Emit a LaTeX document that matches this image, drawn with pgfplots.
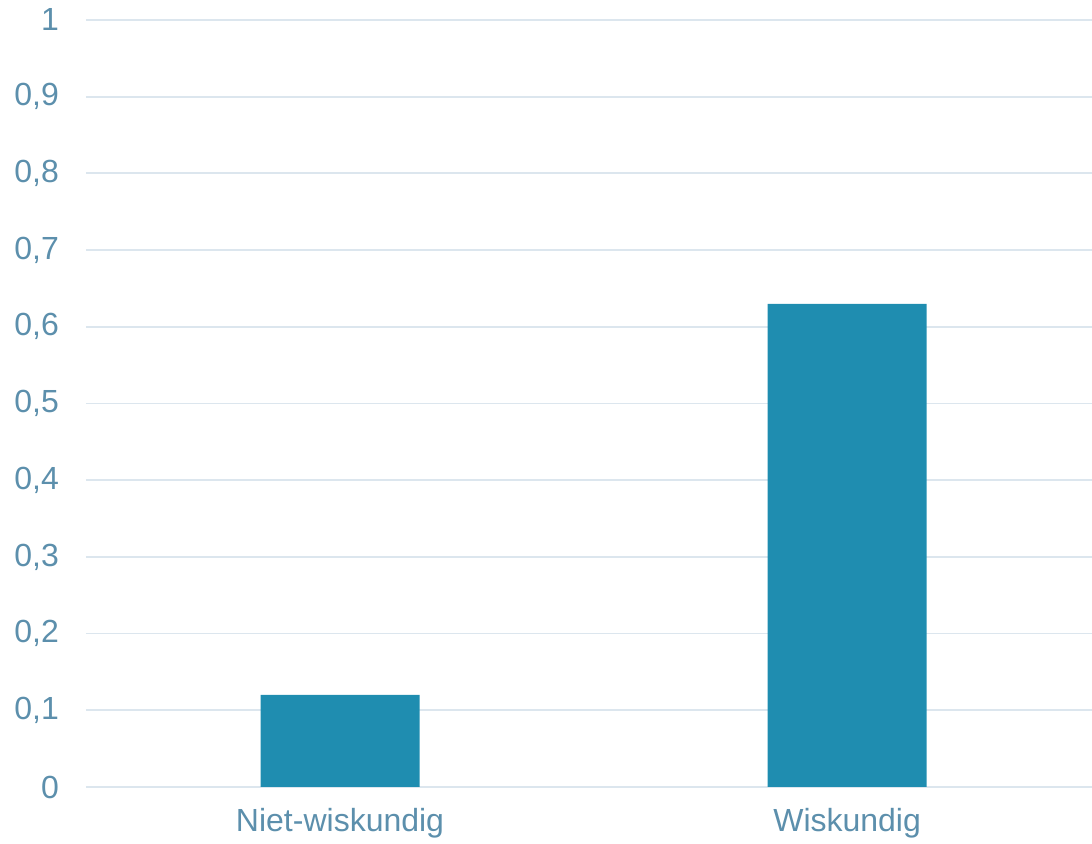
\documentclass[border=0pt]{standalone}
\usepackage{fontspec}
\setmainfont{Liberation Sans}
\usepackage{pgfplots}
\pgfplotsset{compat=1.18}
\definecolor{barc}{RGB}{31,141,176}
\definecolor{txtc}{RGB}{92,143,172}
\definecolor{gridc}{RGB}{220,230,238}
\begin{document}
\begin{tikzpicture}
\begin{axis}[
  name=ax,
  scale only axis,
  width=503pt, height=383.5pt,
  xmin=-0.501, xmax=1.483,
  ymin=0, ymax=1,
  ytick={0,0.1,...,1.0},
  xtick={0,1},
  xticklabels={Niet-wiskundig,Wiskundig},
  axis line style={draw=none},
  major tick length=0pt,
  ymajorgrids,
  grid style={gridc, line width=0.9pt},
  /pgf/number format/use comma,
  /pgf/number format/assume math mode=true,
  ticklabel style={font=\fontsize{16}{19}\selectfont, text=txtc},
  yticklabel style={xshift=-10pt},
  xticklabel style={yshift=-7pt},
  clip=false,
]
\addplot[ybar, bar width=79.5pt, fill=barc, draw=none] coordinates {(0,0.12) (1,0.63)};
\end{axis}
\pgfresetboundingbox
\path ([shift={(-43pt,-28.5pt)}]ax.south west) rectangle ([shift={(0pt,10pt)}]ax.north east);
\end{tikzpicture}
\end{document}
